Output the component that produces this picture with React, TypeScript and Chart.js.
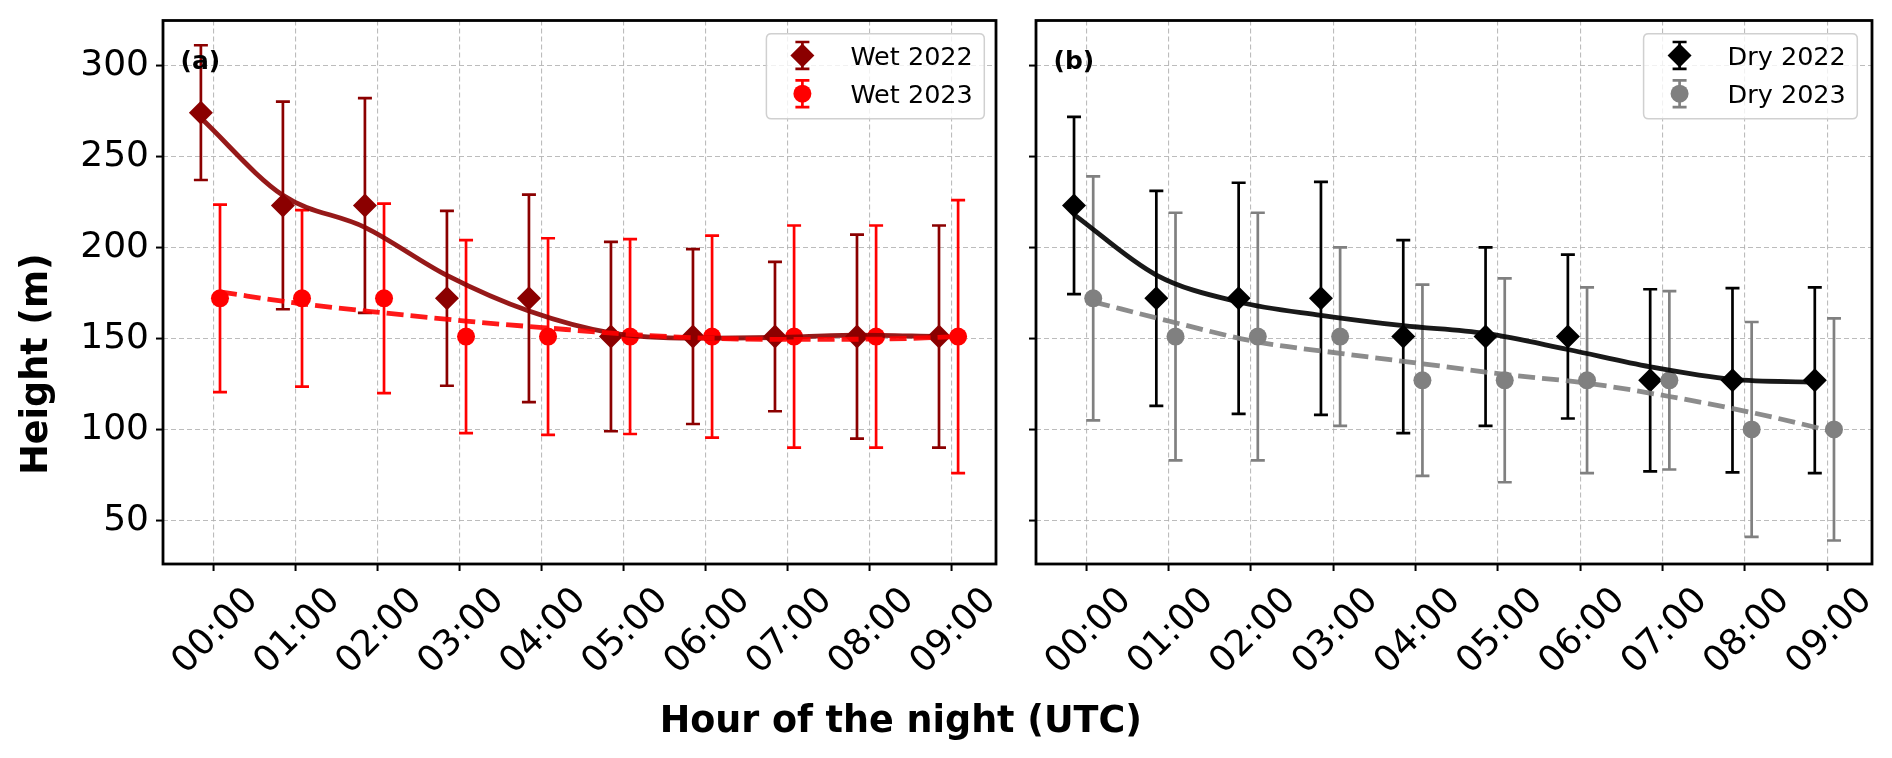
import React, { useEffect, useRef } from "react";
import { Chart, registerables } from "chart.js";

Chart.register(...registerables);
Chart.defaults.font.family = "'DejaVu Sans'";

// ---------------- data ----------------
const HOURS = [0, 1, 2, 3, 4, 5, 6, 7, 8, 9];
const HOUR_LABELS = ["00:00", "01:00", "02:00", "03:00", "04:00", "05:00", "06:00", "07:00", "08:00", "09:00"];
const Y_TICKS = [50, 100, 150, 200, 250, 300];
// measurement time offsets within each hour (hours): 2022 at hh:51, 2023 at hh:05
const OFFSET_2022 = -0.15;
const OFFSET_2023 = 0.083;

const WET_2022 = [274, 223, 223, 172, 172, 151, 151, 151, 151, 151];
const WET_2022_ERR = [37, 57, 59, 48, 57, 52, 48, 41, 56, 61];
const WET_2022_FIT = [271, 228.6, 211, 184.6, 165, 153, 150.1, 150.5, 151.8, 151];

const WET_2023 = [172, 172, 172, 151, 151, 151, 151, 151, 151, 151];
const WET_2023_ERR = [51.5, 48.5, 52, 53, 54, 53.5, 55.5, 61, 61, 75];
const WET_2023_FIT = [175.5, 169, 164, 159.5, 155.7, 152.2, 150, 149.5, 149.6, 151];

const DRY_2022 = [223, 172, 172, 172, 151, 151, 151, 127, 127, 127];
const DRY_2022_ERR = [48.7, 59, 63.5, 64, 53, 49, 45, 50, 50.6, 51];
const DRY_2022_FIT = [218, 184.8, 170, 162.7, 157, 152.7, 143.9, 134.4, 127.5, 126];

const DRY_2023 = [172, 151, 151, 151, 127, 127, 127, 127, 100, 100];
const DRY_2023_ERR = [67, 68, 68, 49, 52.5, 56, 51, 49, 59, 61];
const DRY_2023_FIT = [170.1, 158.6, 148, 141.8, 136.1, 130.2, 125.4, 118.1, 109.3, 98.8];

// ---------------- styling ----------------
const W = 1892;
const H = 758;
const X_MIN = -0.612;
const X_MAX = 9.545;
const Y_MIN = 26.1;
const Y_MAX = 324.6;
const TICK_FONT = 36;
const TITLE_FONT = 36.5;
const LEGEND_FONT = 25.5;
const GRID_COLOR = "rgba(176,176,176,0.85)";
const CAP = 7;
const ERR_WIDTH = 2.7;
const DIAMOND_R = 12;
const CIRCLE_R = 9;
const FIT_WIDTH = 4.8;

const pts = (vals: number[], off: number) => vals.map((v, i) => ({ x: HOURS[i] + off, y: v }));

function drawMarker(ctx: CanvasRenderingContext2D, kind: string, x: number, y: number, color: string) {
  ctx.fillStyle = color;
  ctx.beginPath();
  if (kind === "diamond") {
    const r = DIAMOND_R;
    ctx.moveTo(x - r, y);
    ctx.lineTo(x, y - r);
    ctx.lineTo(x + r, y);
    ctx.lineTo(x, y + r);
    ctx.closePath();
  } else {
    ctx.arc(x, y, CIRCLE_R, 0, Math.PI * 2);
  }
  ctx.fill();
}

const errorBarPlugin = {
  id: "errorBars",
  beforeDatasetDraw(chart: any, args: any) {
    const ds = chart.data.datasets[args.index];
    if (!ds.errors) return;
    const { ctx } = chart;
    const x = chart.scales.x;
    const y = chart.scales.y;
    ctx.save();
    ctx.strokeStyle = ds.errorColor;
    ctx.lineWidth = ERR_WIDTH;
    ctx.lineCap = "butt";
    ds.data.forEach((p: any, i: number) => {
      const px = x.getPixelForValue(p.x);
      const top = y.getPixelForValue(p.y + ds.errors[i]);
      const bot = y.getPixelForValue(p.y - ds.errors[i]);
      ctx.beginPath();
      ctx.moveTo(px, top);
      ctx.lineTo(px, bot);
      ctx.moveTo(px - CAP, top);
      ctx.lineTo(px + CAP, top);
      ctx.moveTo(px - CAP, bot);
      ctx.lineTo(px + CAP, bot);
      ctx.stroke();
    });
    ctx.restore();
  },
};

const decoPlugin = {
  id: "deco",
  afterDraw(chart: any, _args: any, opts: any) {
    const { ctx, chartArea } = chart;
    const x = chart.scales.x;
    ctx.save();

    // frame
    ctx.strokeStyle = "#000";
    ctx.lineWidth = 2.8;
    ctx.strokeRect(chartArea.left, chartArea.top, chartArea.right - chartArea.left, chartArea.bottom - chartArea.top);

    // x tick labels, rotated 45°, centred under tick
    ctx.fillStyle = "#000";
    ctx.font = `${TICK_FONT}px 'DejaVu Sans'`;
    ctx.textAlign = "center";
    ctx.textBaseline = "alphabetic";
    HOURS.forEach((h, i) => {
      const label = HOUR_LABELS[i];
      const w = ctx.measureText(label).width;
      const wInk = w - 0.15 * TICK_FONT;
      const hInk = 0.73 * TICK_FONT;
      const ext = (wInk + hInk) * Math.SQRT1_2;
      const cx = x.getPixelForValue(h);
      const cy = chartArea.bottom + 21 + ext / 2;
      ctx.save();
      ctx.translate(cx, cy);
      ctx.rotate(-Math.PI / 4);
      ctx.fillText(label, 0, 0.365 * TICK_FONT);
      ctx.restore();
    });

    // panel label
    ctx.font = `bold 25px 'DejaVu Sans'`;
    ctx.textAlign = "left";
    ctx.fillText(opts.panel, chartArea.left + 17.5, chartArea.top + 48);

    // legend
    const items = opts.legend as any[];
    ctx.font = `${LEGEND_FONT}px 'DejaVu Sans'`;
    const maxW = Math.max(...items.map((it) => ctx.measureText(it.text).width));
    const boxRight = chartArea.right - opts.legendGap;
    const textX = boxRight - 11.5 - maxW;
    const markerX = textX - 48;
    const boxLeft = markerX - 36;
    const boxTop = chartArea.top + 13.3;
    const boxBottom = boxTop + 85;
    const r = 5;
    ctx.beginPath();
    ctx.moveTo(boxLeft + r, boxTop);
    ctx.lineTo(boxRight - r, boxTop);
    ctx.quadraticCurveTo(boxRight, boxTop, boxRight, boxTop + r);
    ctx.lineTo(boxRight, boxBottom - r);
    ctx.quadraticCurveTo(boxRight, boxBottom, boxRight - r, boxBottom);
    ctx.lineTo(boxLeft + r, boxBottom);
    ctx.quadraticCurveTo(boxLeft, boxBottom, boxLeft, boxBottom - r);
    ctx.lineTo(boxLeft, boxTop + r);
    ctx.quadraticCurveTo(boxLeft, boxTop, boxLeft + r, boxTop);
    ctx.closePath();
    ctx.fillStyle = "rgba(255,255,255,0.8)";
    ctx.fill();
    ctx.strokeStyle = "#d0d0d0";
    ctx.lineWidth = 1.5;
    ctx.stroke();

    items.forEach((it, i) => {
      const cy = boxTop + 21.6 + i * 38.3;
      ctx.strokeStyle = it.color;
      ctx.lineWidth = ERR_WIDTH;
      ctx.beginPath();
      ctx.moveTo(markerX, cy - 13.4);
      ctx.lineTo(markerX, cy + 13.4);
      ctx.moveTo(markerX - CAP, cy - 13.4);
      ctx.lineTo(markerX + CAP, cy - 13.4);
      ctx.moveTo(markerX - CAP, cy + 13.4);
      ctx.lineTo(markerX + CAP, cy + 13.4);
      ctx.stroke();
      drawMarker(ctx, it.marker, markerX, cy, it.color);
      ctx.fillStyle = "#000";
      ctx.textAlign = "left";
      ctx.textBaseline = "alphabetic";
      ctx.fillText(it.text, textX, cy + 0.365 * LEGEND_FONT);
    });

    // figure-level axis titles
    if (opts.titles) {
      ctx.fillStyle = "#000";
      ctx.font = `bold ${TITLE_FONT}px 'DejaVu Sans'`;
      ctx.textAlign = "center";
      ctx.textBaseline = "alphabetic";
      ctx.fillText("Hour of the night (UTC)", 900.8, 731.7);
      ctx.save();
      ctx.translate(46.7, 364);
      ctx.rotate(-Math.PI / 2);
      ctx.fillText("Height (m)", 0, 0);
      ctx.restore();
    }
    ctx.restore();
  },
};

type PanelSpec = {
  panel: string;
  left: number;
  right: number;
  showYLabels: boolean;
  titles: boolean;
  legendGap: number;
  s22: number[];
  e22: number[];
  f22: number[];
  s23: number[];
  e23: number[];
  f23: number[];
  c22: string;
  c23: string;
  fit22: string;
  fit23: string;
  name22: string;
  name23: string;
};

function buildConfig(p: PanelSpec): any {
  const yWidth = p.showYLabels ? p.left : 40;
  const padLeft = p.left - yWidth;
  return {
    type: "line",
    data: {
      datasets: [
        {
          label: p.name22,
          data: pts(p.s22, OFFSET_2022),
          errors: p.e22,
          errorColor: p.c22,
          showLine: false,
          pointStyle: "rectRot",
          pointRadius: DIAMOND_R,
          pointBackgroundColor: p.c22,
          pointBorderWidth: 0,
          order: 4,
        },
        {
          label: p.name23,
          data: pts(p.s23, OFFSET_2023),
          errors: p.e23,
          errorColor: p.c23,
          showLine: false,
          pointStyle: "circle",
          pointRadius: CIRCLE_R,
          pointBackgroundColor: p.c23,
          pointBorderWidth: 0,
          order: 3,
        },
        {
          label: p.name22 + " fit",
          data: pts(p.f22, OFFSET_2022),
          borderColor: p.fit22,
          borderWidth: FIT_WIDTH,
          pointRadius: 0,
          cubicInterpolationMode: "monotone",
          fill: false,
          order: 2,
        },
        {
          label: p.name23 + " fit",
          data: pts(p.f23, OFFSET_2023),
          borderColor: p.fit23,
          borderWidth: FIT_WIDTH,
          borderDash: [17, 7],
          pointRadius: 0,
          cubicInterpolationMode: "monotone",
          fill: false,
          order: 1,
        },
      ],
    },
    options: {
      responsive: false,
      animation: false,
      events: [],
      layout: { padding: { left: padLeft, top: 20.5, right: W - p.right, bottom: 0 } },
      scales: {
        x: {
          type: "linear",
          min: X_MIN,
          max: X_MAX,
          afterBuildTicks: (s: any) => {
            s.ticks = HOURS.map((v) => ({ value: v }));
          },
          afterFit: (s: any) => {
            s.height = H - 564;
            s.paddingLeft = 0;
            s.paddingRight = 0;
          },
          ticks: { display: false },
          border: { display: false, dash: [5, 3] },
          grid: {
            color: GRID_COLOR,
            lineWidth: 1.1,
            drawTicks: true,
            tickLength: 7,
            tickColor: "#000",
            tickWidth: 2,
            tickBorderDash: [],
          },
        },
        y: {
          type: "linear",
          min: Y_MIN,
          max: Y_MAX,
          afterBuildTicks: (s: any) => {
            s.ticks = Y_TICKS.map((v) => ({ value: v }));
          },
          afterFit: (s: any) => {
            s.width = yWidth;
            s.paddingTop = 0;
            s.paddingBottom = 0;
          },
          ticks: {
            display: p.showYLabels,
            color: "#000",
            padding: 7,
            font: { size: TICK_FONT, family: "'DejaVu Sans'", lineHeight: 1 },
          },
          border: { display: false, dash: [5, 3] },
          grid: {
            color: GRID_COLOR,
            lineWidth: 1.1,
            drawTicks: true,
            tickLength: 7,
            tickColor: "#000",
            tickWidth: 2,
            tickBorderDash: [],
          },
        },
      },
      plugins: {
        legend: { display: false },
        tooltip: { enabled: false },
        deco: {
          panel: p.panel,
          titles: p.titles,
          legendGap: p.legendGap,
          legend: [
            { text: p.name22, color: p.c22, marker: "diamond" },
            { text: p.name23, color: p.c23, marker: "circle" },
          ],
        },
      },
    },
    plugins: [errorBarPlugin, decoPlugin],
  };
}

const PANEL_A: PanelSpec = {
  panel: "(a)",
  left: 163,
  right: 996,
  showYLabels: true,
  titles: true,
  legendGap: 11.7,
  s22: WET_2022,
  e22: WET_2022_ERR,
  f22: WET_2022_FIT,
  s23: WET_2023,
  e23: WET_2023_ERR,
  f23: WET_2023_FIT,
  c22: "#8b0000",
  c23: "#ff0000",
  fit22: "rgba(139,0,0,0.9)",
  fit23: "rgba(255,0,0,0.9)",
  name22: "Wet 2022",
  name23: "Wet 2023",
};

const PANEL_B: PanelSpec = {
  panel: "(b)",
  left: 1036,
  right: 1872,
  showYLabels: false,
  titles: false,
  legendGap: 14.7,
  s22: DRY_2022,
  e22: DRY_2022_ERR,
  f22: DRY_2022_FIT,
  s23: DRY_2023,
  e23: DRY_2023_ERR,
  f23: DRY_2023_FIT,
  c22: "#000000",
  c23: "#808080",
  fit22: "rgba(0,0,0,0.9)",
  fit23: "rgba(128,128,128,0.9)",
  name22: "Dry 2022",
  name23: "Dry 2023",
};

function Panel({ spec }: { spec: PanelSpec }) {
  const ref = useRef<HTMLCanvasElement | null>(null);
  useEffect(() => {
    if (!ref.current) return;
    const chart = new Chart(ref.current, buildConfig(spec));
    return () => chart.destroy();
  }, [spec]);
  return (
    <canvas
      ref={ref}
      width={W}
      height={H}
      style={{ position: "absolute", left: 0, top: 0, width: W, height: H }}
    />
  );
}

export default function App() {
  return (
    <div style={{ position: "absolute", left: 0, top: 0, width: W, height: H, background: "#fff", overflow: "hidden" }}>
      <Panel spec={PANEL_A} />
      <Panel spec={PANEL_B} />
    </div>
  );
}
